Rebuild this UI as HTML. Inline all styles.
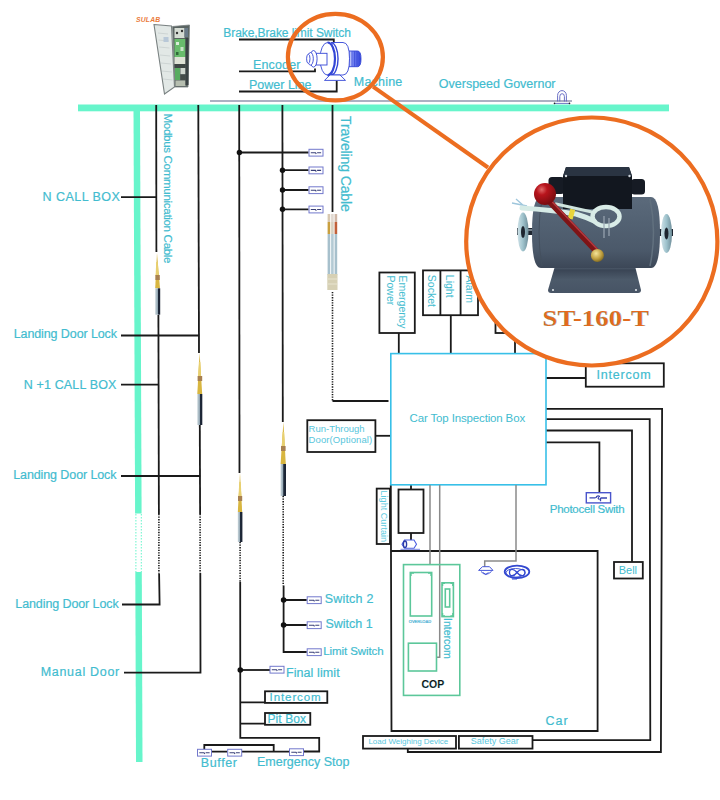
<!DOCTYPE html>
<html><head><meta charset="utf-8">
<style>
html,body{margin:0;padding:0;background:#fff;width:720px;height:800px;overflow:hidden}
svg{display:block}
text{font-family:"Liberation Sans",sans-serif;fill:#42bccf;stroke:#42bccf;stroke-width:0.2px}
</style></head><body>
<svg width="720" height="800" viewBox="0 0 720 800">
<defs>
  <g id="sw">
    <rect x="0.5" y="-3.2" width="14" height="6.8" fill="#fff" stroke="#7278cc" stroke-width="1"/>
    <path d="M2.3 0.2H7L7.8 1.4M8.6 0.2H12.6" fill="none" stroke="#3a4078" stroke-width="1.1"/>
  </g>
</defs>
<rect width="720" height="800" fill="#fff"/>

<!-- teal bars -->
<rect x="78" y="104.5" width="591" height="6.8" fill="#67f5cb"/>
<path d="M133.5 110H140L141.6 513.5H135.1Z" fill="#67f5cb"/>
<path d="M135.3 572H141.8L142.5 762H136Z" fill="#67f5cb"/>
<path d="M135.9 514V572M141.3 514V572" stroke="#67f5cb" stroke-width="1" stroke-dasharray="1.5 1.5"/>

<!-- gray line top -->
<path d="M210 101H572" stroke="#9296ae" stroke-width="1.3"/>

<g fill="none" stroke="#1a1a1a" stroke-width="1.8">
  <!-- top labels lines -->
  <path d="M239 39.5H333.8V42.5"/>
  <path d="M239 71.3H315V68.5"/>
  <path d="M239 91.5H336.7V80.4"/>
  <!-- verticals from bar -->
  <path d="M156.2 105L156.4 252"/>
  <path d="M158.4 315L158.9 514"/>
  <path d="M159.1 573.6L159.6 604.5H122"/>
  <path d="M121 197.2H156.3"/>
  <path d="M121 335.5H199"/>
  <path d="M121 384.7H158"/>
  <path d="M121 476H200.2"/>
  <path d="M124 672.7H200.5L200.3 573"/>
  <path d="M198.3 105L199 353"/>
  <path d="M199.8 425L200.1 514"/>
  <path d="M239.2 105L239.5 473"/>
  <path d="M240.2 581.7L240.3 737.8H319.2V751.5H303.7"/>
  <path d="M282.4 105L282.8 422"/>
  <path d="M283.6 585.5L283.6 652H306.7"/>
  <path d="M332.5 105V212"/>
  <!-- switch branches -->
  <path d="M239.3 152.5H308.5"/>
  <path d="M282.5 170.2H308.5M282.5 190H308.5M282.5 209.3H308.5"/>
  <path d="M283.6 600H306.7M283.6 625H306.7"/>
  <path d="M240.3 670H270"/>
  <path d="M240.3 702.4H265M240.3 723.6H265"/>
  <path d="M204.3 749.6V745H273.7V751.7"/>
  <path d="M211.5 751.7H227.2M241.7 751.7H289"/>
<!-- boxes -->
  <rect x="265" y="691.3" width="62.3" height="11.6"/>
  <rect x="265" y="713" width="45.3" height="11.8"/>
  <!-- dotted to car top box -->
  <path d="M332.5 401H388.5"/>
  <rect x="379.4" y="272.5" width="35.4" height="60.5"/>
  <path d="M398.8 333V353.5"/>
  <rect x="423" y="270.4" width="55" height="44.8"/>
  <path d="M440.4 270.4V315.2M460.6 270.4V315.2"/>
  <path d="M450.8 315.2V353.5"/>
  <rect x="495.5" y="320" width="25" height="13"/>
  <path d="M515 333V353.5"/>
  <rect x="307.3" y="420.2" width="68.1" height="31.8"/>
  <path d="M375.4 435.8H390.6"/>
  <rect x="585.8" y="363.3" width="78" height="23.4"/>
  <path d="M546 378H585.8"/>
  <path d="M546 408.8H662.1L660.9 752H407.8V748.6"/>
  <path d="M546 419.2H649.7L650.3 740.2H532.5"/>
  <path d="M546 430.5H632V562"/>
  <path d="M546 442.4H599.4V492.5"/>
  <rect x="614" y="562" width="28.8" height="16.5"/>
  <!-- car -->
  <path d="M390.8 485L391.5 731H597.6V551H391"/>
  <rect x="376.7" y="488.6" width="13.3" height="55.4"/>
  <rect x="398.5" y="489.5" width="25" height="43.5"/>
  <path d="M411 485V489M411 533V540"/>
  <rect x="363" y="736" width="93" height="12.6"/>
  <rect x="458.9" y="736" width="73.6" height="12.6"/>
</g>
<!-- dotted cable lines -->
<g fill="none" stroke="#1a1a1a" stroke-width="1.6" stroke-dasharray="1.3 1.25">
  <path d="M158.9 514V573.6"/>
  <path d="M200.1 514V573"/>
  <path d="M240.1 542V581.7"/>
  <path d="M283.2 496V585.5"/>
  <path d="M332.5 292V401"/>
</g>

<!-- junction dots -->
<g fill="#111">
  <circle cx="239.4" cy="152.5" r="2.7"/>
  <circle cx="282.5" cy="170.2" r="2.7"/>
  <circle cx="282.5" cy="190" r="2.7"/>
  <circle cx="282.5" cy="209.3" r="2.7"/>
  <circle cx="283.6" cy="600" r="2.8"/>
  <circle cx="283.6" cy="625" r="2.8"/>
  <circle cx="240.3" cy="670" r="2.8"/>
</g>

<!-- switches -->
<use href="#sw" x="308.5" y="152.5"/>
<use href="#sw" x="308.5" y="170.2"/>
<use href="#sw" x="308.5" y="190"/>
<use href="#sw" x="308.5" y="209.3"/>
<use href="#sw" x="306.7" y="600"/>
<use href="#sw" x="306.7" y="625"/>
<use href="#sw" x="306.7" y="652"/>
<use href="#sw" x="269.5" y="669.5"/>
<use href="#sw" x="197" y="752.5"/>
<use href="#sw" x="227.2" y="752.5"/>
<use href="#sw" x="289" y="752"/>

<!-- cyan car top box -->
<rect x="390.8" y="353.6" width="155.2" height="131.2" fill="none" stroke="#38c0e8" stroke-width="1.6"/>

<!-- gray wires -->
<g fill="none" stroke="#8a8a8a" stroke-width="1.5">
  <path d="M430 485V564.6"/>
  <path d="M439.7 485V657.3H436.5"/>
  <path d="M516 485V561H484.7V567"/>
</g>


<!-- photocell -->
<g fill="none" stroke="#4a55cc">
  <rect x="586.3" y="492.7" width="24.3" height="10.2" stroke-width="1.4" fill="#fff"/>
  <path d="M589.5 497.8H595.5M600.5 498H607M600.5 498V501.2M596 497.8C596.5 495.5 599.5 495.5 599.5 497M599 497.2Q597 498.5 599.5 499.5" stroke-width="1.3" stroke="#3a44b0"/>
</g>
<!-- lamp -->
<g fill="none" stroke="#4455d8" stroke-width="1">
  <path d="M482.5 566.7H489.5L493 570.4H478.6Z" fill="#fff"/>
  <path d="M481 571.5Q485.7 577 491.5 571.5M483 572.5L485.7 574.5L488.5 572.5"/>
</g>
<!-- fan -->
<g fill="none" stroke="#3348d0">
  <ellipse cx="517" cy="571.8" rx="12.3" ry="6.2" stroke-width="1.8"/>
  <ellipse cx="515.5" cy="572.8" rx="9.5" ry="4.3" stroke-width="0.9"/>
  <path d="M509.5 572.5C509.5 568 514 568.5 517 572.5C520 576.5 525 577 525 572.5C525 568 520 568.5 517 572.5C514 576.5 509.5 577 509.5 572.5Z" stroke-width="1.3"/>
  <path d="M512 579H517" stroke-width="1"/>
</g>
<!-- light curtain motor -->
<g fill="none" stroke="#4b5ee0" stroke-width="1.1">
  <path d="M404.5 540H414L416.5 544.2L414 548.3H404.5L402 544.2Z" fill="#fff"/>
  <ellipse cx="405" cy="544.2" rx="1.6" ry="3.2" stroke="#2a3aa8" stroke-width="1.4"/>
  <path d="M400.5 549.3H420" stroke="#7b86e0" stroke-width="1"/>
</g>

<!-- COP -->
<g fill="none" stroke="#5cc79a" stroke-width="1.6">
  <rect x="403.5" y="564.6" width="56.3" height="130.8"/>
  <rect x="410.3" y="572.5" width="21.4" height="43.5"/>
  <rect x="442" y="582.8" width="11.4" height="33.8"/>
  <rect x="445.3" y="589" width="4.4" height="18"/>
  <rect x="408.4" y="643.2" width="28.1" height="27.8"/>
  <path d="M411 576V573.2H414M431 576V573.2H428M442.6 586V583.4H445M452.8 586V583.4H450.4M442.6 613V616H445M452.8 613V616H450.4" stroke-width="1.3"/>
</g>
<text x="421.5" y="688" font-size="10.5" font-weight="700" style="fill:#111">COP</text>
<text x="408.8" y="623" font-size="4" style="fill:#5aa0e0">OVERLOAD</text>

<!-- cables (shielded) -->
<defs>
  <linearGradient id="cyl" x1="0" x2="1">
    <stop offset="0" stop-color="#c9d6dc"/><stop offset="0.5" stop-color="#8fa3b0"/><stop offset="0.55" stop-color="#1f2a3a"/><stop offset="1" stop-color="#1a2233"/>
  </linearGradient>
</defs>
<g>
  <path d="M157 253L155.2 288.3H160Z" fill="#d8b640"/>
  <path d="M156.2 262L157.8 262L158.5 276H155.6Z" fill="#e8d070"/>
  <rect x="155.4" y="275" width="4.4" height="5" fill="#a88050"/>
  <rect x="155.2" y="288.3" width="5" height="26.4" fill="url(#cyl)"/>

  <path d="M199.6 353L197.3 394H202.2Z" fill="#d8b640"/>
  <path d="M198.9 362L200.3 362L201.2 378H198Z" fill="#e8d070"/>
  <rect x="197.6" y="376" width="4.6" height="5" fill="#a88050"/>
  <rect x="197.3" y="394" width="5" height="31" fill="url(#cyl)"/>

  <path d="M240 473L237.8 512H242.2Z" fill="#d8b640"/>
  <path d="M239.3 482L240.7 482L241.5 496H238.5Z" fill="#e8d070"/>
  <rect x="238" y="496" width="4.2" height="5" fill="#a88050"/>
  <rect x="237.8" y="512" width="4.6" height="30" fill="url(#cyl)"/>

  <path d="M283.4 422L280.6 464H285.8Z" fill="#d8b640"/>
  <path d="M282.6 432L284.2 432L285 448H281.6Z" fill="#e8d070"/>
  <rect x="281" y="446" width="4.6" height="5" fill="#a88050"/>
  <rect x="280.6" y="464" width="5.4" height="32" fill="url(#cyl)"/>

  <!-- traveling cable -->
  <rect x="327.6" y="214" width="2.6" height="8" fill="#d8c8b0"/>
  <rect x="331.1" y="214" width="2.6" height="8" fill="#e0d8d0"/>
  <rect x="334.6" y="214" width="2.6" height="8" fill="#d0b8a8"/>
  <rect x="327.6" y="222" width="2.6" height="12" fill="#c9a040"/>
  <rect x="331.1" y="222" width="2.6" height="12" fill="#d8d0c0"/>
  <rect x="334.6" y="222" width="2.6" height="12" fill="#c0603a"/>
  <rect x="327.6" y="234" width="2.6" height="41" fill="#a7c0cc"/>
  <rect x="331.1" y="234" width="2.6" height="41" fill="#b4cad4"/>
  <rect x="334.6" y="234" width="2.6" height="41" fill="#a7c0cc"/>
  <rect x="327.3" y="274" width="10.2" height="16" fill="#d6d0b4"/>
  <path d="M328 279H337M328 284H337" stroke="#eeead8" stroke-width="0.8"/>
</g>

<!-- top left cabinet -->
<text x="136" y="22" font-size="6.8" font-style="italic" font-weight="700" letter-spacing="0.2" style="fill:#ea7a3a;stroke:none">SULAB</text>
<path d="M154 24.5L171.5 26L174.5 87L164.5 94Z" fill="#e2e8e6" stroke="#7a8282" stroke-width="1.1"/>
<path d="M158 33L168 34M158.5 40L169 41M159 47L169.5 48M160 55L170 56M161 63L171 64M162 71L172 72M163 79L172.5 80" stroke="#c4cccc" stroke-width="0.7"/>
<rect x="163.5" y="37" width="5" height="5" fill="#b8c8d8"/>
<path d="M172.5 26.5L189.5 25L188 87L175 87Z" fill="#5a6462" stroke="#7a8282" stroke-width="0.8"/>
<rect x="174.5" y="28" width="10" height="10" fill="#d6dcd4"/>
<circle cx="177" cy="33" r="1.2" fill="#333"/>
<circle cx="182" cy="31" r="1.2" fill="#333"/>
<rect x="184.5" y="28" width="3.5" height="9" fill="#6a7a88"/>
<rect x="174.5" y="39" width="11" height="18" fill="#68bc6c"/>
<rect x="176" y="42" width="3" height="3" fill="#d8ecd8"/>
<rect x="180.5" y="47" width="3" height="4" fill="#c8e4c8"/>
<rect x="176" y="52" width="2.5" height="3" fill="#2f6a38"/>
<rect x="174.5" y="57" width="11" height="7" fill="#dee2d6"/>
<rect x="174.5" y="64" width="11" height="4" fill="#3e4644"/>
<rect x="175" y="68" width="5" height="12" fill="#58ac60"/>
<rect x="180.5" y="68" width="5" height="6" fill="#cfd6cf"/>
<rect x="180.5" y="75" width="5" height="5" fill="#444c4a"/>
<rect x="175.5" y="80.5" width="10" height="5.5" fill="#b6beb0"/>
<rect x="185.5" y="38" width="3" height="47" fill="#3a4244"/>
<!-- motor symbol -->
<defs>
  <linearGradient id="shg" x1="0" x2="1">
    <stop offset="0" stop-color="#dfe4ff"/><stop offset="0.35" stop-color="#6f80f0"/><stop offset="1" stop-color="#2e40d8"/>
  </linearGradient>
</defs>
<g fill="#fff" stroke="#3446d6" stroke-width="0.9">
  <path d="M349 51H357.5Q361 51 361 58.8Q361 66.7 357.5 66.7H349Z" fill="url(#shg)"/>
  <path d="M352 51.2V66.5M354.5 51.2V66.5M357 51.4V66.3" stroke="#3a4ad8" stroke-width="0.7"/>
  <path d="M332 42.5H343Q349.5 42.5 349.5 58.8Q349.5 75 343 75H332Z"/>
  <ellipse cx="327.5" cy="58.8" rx="7.5" ry="16.3"/>
  <path d="M327.5 42.5A7.5 16.3 0 0 1 327.5 75.1" fill="none" stroke-width="2.2"/>
  <path d="M331 42.6A7 16.1 0 0 1 331 75" fill="none" stroke-width="1.4"/>
  <rect x="316" y="53.3" width="11" height="11.7"/>
  <ellipse cx="313.5" cy="58.8" rx="3.6" ry="8.3"/>
  <ellipse cx="310.5" cy="58.8" rx="2.8" ry="6.3"/>
  <ellipse cx="308.3" cy="58.8" rx="1.7" ry="4.6"/>
  <path d="M324.5 80.4H345.5L340 75H330Z"/>
</g>

<!-- governor symbol -->
<g fill="none" stroke="#5a60c0" stroke-width="0.9">
  <path d="M557.6 101.5V95.5A4.4 4.9 0 0 1 566.4 95.5V101.5"/>
  <path d="M559.8 101.5V96.5A2.3 2.8 0 0 1 564.4 96.5V101.5"/>
  <path d="M554 103.4H570" stroke="#4a50b0" stroke-width="0.8"/>
</g>
<circle cx="554.5" cy="103.4" r="0.8" fill="#222"/>
<circle cx="569.5" cy="103.4" r="0.8" fill="#222"/>

<!-- labels -->
<text x="223.3" y="36.5" font-size="12" letter-spacing="-0.08">Brake,Brake limit Switch</text>
<text x="253" y="69" font-size="12.5" letter-spacing="0.15">Encoder</text>
<text x="249" y="88.8" font-size="12.5">Power Line</text>
<text x="353.8" y="85.6" font-size="12.5" letter-spacing="0.2">Machine</text>
<text x="438.8" y="87.6" font-size="12.5">Overspeed Governor</text>

<text x="42.6" y="200.7" font-size="12.5" letter-spacing="0.45">N CALL BOX</text>
<text x="13.7" y="338" font-size="12.5" letter-spacing="-0.1">Landing Door Lock</text>
<text x="23.7" y="388.7" font-size="12.5" letter-spacing="0.15">N +1 CALL BOX</text>
<text x="13.2" y="478.7" font-size="12.5" letter-spacing="-0.1">Landing Door Lock</text>
<text x="15.3" y="608.3" font-size="12.5" letter-spacing="-0.1">Landing Door Lock</text>
<text x="40.7" y="676.1" font-size="12.5" letter-spacing="0.7">Manual Door</text>

<text transform="translate(163.5 113.5) rotate(90)" font-size="11.6" letter-spacing="-0.34">Modbus Communication Cable</text>
<text transform="translate(341 116) rotate(90)" font-size="14" letter-spacing="-0.13">Traveling Cable</text>
<text transform="translate(398.8 275.5) rotate(90)" font-size="10.5" style="stroke:none">Emergency</text>
<text transform="translate(387 275.5) rotate(90)" font-size="10.5" style="stroke:none">Power</text>
<text transform="translate(428 274.8) rotate(90)" font-size="10.5" style="stroke:none">Socket</text>
<text transform="translate(446.3 274.8) rotate(90)" font-size="10.5" style="stroke:none">Light</text>
<text transform="translate(465.7 275.5) rotate(90)" font-size="10.5" style="stroke:none">Alarm</text>
<text transform="translate(381 490.5) rotate(90)" font-size="9" letter-spacing="0.05" style="stroke:none;fill:#5ccae0">Light Curtain</text>
<text transform="translate(443.5 618) rotate(90)" font-size="10.5">Intercom</text>

<text x="409.6" y="422.2" font-size="11.5" letter-spacing="-0.15" style="stroke:none">Car Top Inspection Box</text>
<text x="308.6" y="432.4" font-size="9.5" style="stroke:none;fill:#58c6dc">Run-Through</text>
<text x="308.6" y="443.4" font-size="9.5" letter-spacing="0.1" style="stroke:none;fill:#58c6dc">Door(Optional)</text>
<text x="596.5" y="379" font-size="12.5" letter-spacing="0.8">Intercom</text>
<text x="549.8" y="513" font-size="11.5" letter-spacing="-0.27">Photocell Swith</text>
<text x="618.7" y="573.5" font-size="11" style="stroke:none">Bell</text>
<text x="545.6" y="724.5" font-size="12.5" letter-spacing="1">Car</text>
<text x="368.4" y="743.6" font-size="8" style="stroke:none;fill:#58c6dc">Load Weighing Device</text>
<text x="470.7" y="744.4" font-size="9" style="stroke:none;fill:#58c6dc">Safety Gear</text>

<text x="324.7" y="602.8" font-size="12.5" letter-spacing="0.2">Switch 2</text>
<text x="325.4" y="627.8" font-size="12.5">Switch 1</text>
<text x="323.3" y="655" font-size="11.5" letter-spacing="-0.1">Limit Switch</text>
<text x="285.9" y="676.9" font-size="12.5" letter-spacing="0.1">Final limit</text>
<text x="269.6" y="701" font-size="11.5" letter-spacing="0.9">Intercom</text>
<text x="267.5" y="722.5" font-size="12" letter-spacing="0.1">Pit Box</text>
<text x="200.8" y="767" font-size="12.5" letter-spacing="0.6">Buffer</text>
<text x="257" y="766" font-size="12.5">Emergency Stop</text>

<!-- orange magnifier -->
<path d="M373 86.7L488 167.5" stroke="#ec6d20" stroke-width="4"/>
<ellipse cx="335.4" cy="57.1" rx="47.5" ry="43.3" fill="none" stroke="#ec6d20" stroke-width="4.2"/>
<ellipse cx="591.8" cy="241.5" rx="125.6" ry="124" fill="#fff" stroke="#ec6d20" stroke-width="4.2"/>

<!-- photo of ST-160-T -->
<defs>
  <linearGradient id="cylg" x1="0" y1="0" x2="0" y2="1">
    <stop offset="0" stop-color="#5b6a7b"/><stop offset="0.3" stop-color="#546374"/><stop offset="0.75" stop-color="#4b596a"/><stop offset="1" stop-color="#3c4757"/>
  </linearGradient>
  <linearGradient id="baseg" x1="0" y1="0" x2="0" y2="1">
    <stop offset="0" stop-color="#5a6878"/><stop offset="0.15" stop-color="#3a4555"/><stop offset="0.5" stop-color="#4c5a6a"/><stop offset="1" stop-color="#475465"/>
  </linearGradient>
  <radialGradient id="ballg" cx="0.35" cy="0.3" r="0.7">
    <stop offset="0" stop-color="#e06868"/><stop offset="0.35" stop-color="#b8141c"/><stop offset="1" stop-color="#7a0c10"/>
  </radialGradient>
  <radialGradient id="brassg" cx="0.4" cy="0.35" r="0.7">
    <stop offset="0" stop-color="#f4e49a"/><stop offset="0.6" stop-color="#c0a040"/><stop offset="1" stop-color="#7a6420"/>
  </radialGradient>
  <linearGradient id="flg" x1="0" x2="1">
    <stop offset="0" stop-color="#cfe2e8"/><stop offset="0.5" stop-color="#9ec2cc"/><stop offset="1" stop-color="#6f8e9a"/>
  </linearGradient>
</defs>
<g>
  <!-- base bracket -->
  <path d="M555 266H635L641 290Q641 293 638 293H551Q548 293 548 290Z" fill="url(#baseg)"/>
  <circle cx="553" cy="290" r="1" fill="#e8eef2"/>
  <circle cx="636" cy="290" r="1" fill="#e8eef2"/>
  <!-- flanges -->
  <rect x="517" y="228" width="17" height="7" fill="#1e2630"/>
  <path d="M519 230H534" stroke="#c8d8e0" stroke-width="1"/>
  <ellipse cx="523" cy="232" rx="5.5" ry="19.5" fill="url(#flg)"/>
  <ellipse cx="523" cy="232" rx="2" ry="6" fill="#1e2630"/>
  <rect x="657" y="229" width="16" height="7" fill="#1e2630"/>
  <ellipse cx="666.5" cy="233.5" rx="5.5" ry="19.5" fill="url(#flg)"/>
  <ellipse cx="666.5" cy="233.5" rx="2" ry="6" fill="#1e2630"/>
  <!-- cylinder -->
  <path d="M541 197H651Q660 197 660 232.5Q660 268 651 268H541Q532 268 532 232.5Q532 197 541 197Z" fill="url(#cylg)"/>
  <path d="M650 199Q657 232 650 266" stroke="#62717f" stroke-width="1.5" fill="none"/>
  <path d="M542 199Q536 232 542 266" stroke="#44505e" stroke-width="1" fill="none"/>
  <!-- junction box -->
  <rect x="548.5" y="177" width="16" height="17" rx="3.5" fill="#161b24"/>
  <rect x="631" y="179" width="14" height="15.5" rx="3.5" fill="#161b24"/>
  <path d="M566 167H629L632 176V209H563V176Z" fill="#12171f"/>
  <path d="M566 167H629L632 176H563Z" fill="#2a3442"/>
  <circle cx="566" cy="176" r="1.2" fill="#cfd6dc"/>
  <circle cx="629.5" cy="176" r="1.2" fill="#cfd6dc"/>
  <!-- cables -->
  <path d="M512 203L527 206M516 199L524 206" stroke="#9ec6dc" stroke-width="1.3"/>
  <path d="M522 208Q552 210 576 214Q586 217 594 221" fill="none" stroke="#d6ebe6" stroke-width="5" stroke-linecap="round"/>
  <path d="M556 204Q574 208 592 212" fill="none" stroke="#cfe4de" stroke-width="3" stroke-linecap="round"/>
  <ellipse cx="606" cy="216.5" rx="13.5" ry="9.5" fill="none" stroke="#d9ece7" stroke-width="4.5"/>
  <rect x="569" y="209" width="5" height="10" fill="#e8d43a" transform="rotate(15 571 214)"/>
  <path d="M604 216V238M609 218V236" stroke="#9aa6b2" stroke-width="1.2"/>
  <!-- lever -->
  <path d="M548 200L597 252" stroke="#7e1416" stroke-width="6" stroke-linecap="round"/>
  <path d="M550 199.5L598.5 250.5" stroke="#b53a40" stroke-width="1.5"/>
  <circle cx="545" cy="194" r="11" fill="url(#ballg)"/>
  <circle cx="597.4" cy="255.4" r="6.5" fill="url(#brassg)"/>
</g>
<text x="542.5" y="325.8" font-size="23.5" font-weight="700" textLength="106.5" lengthAdjust="spacingAndGlyphs" style="fill:#e56a1c;font-family:'Liberation Serif',serif">ST-160-T</text>
</svg>
</body></html>
